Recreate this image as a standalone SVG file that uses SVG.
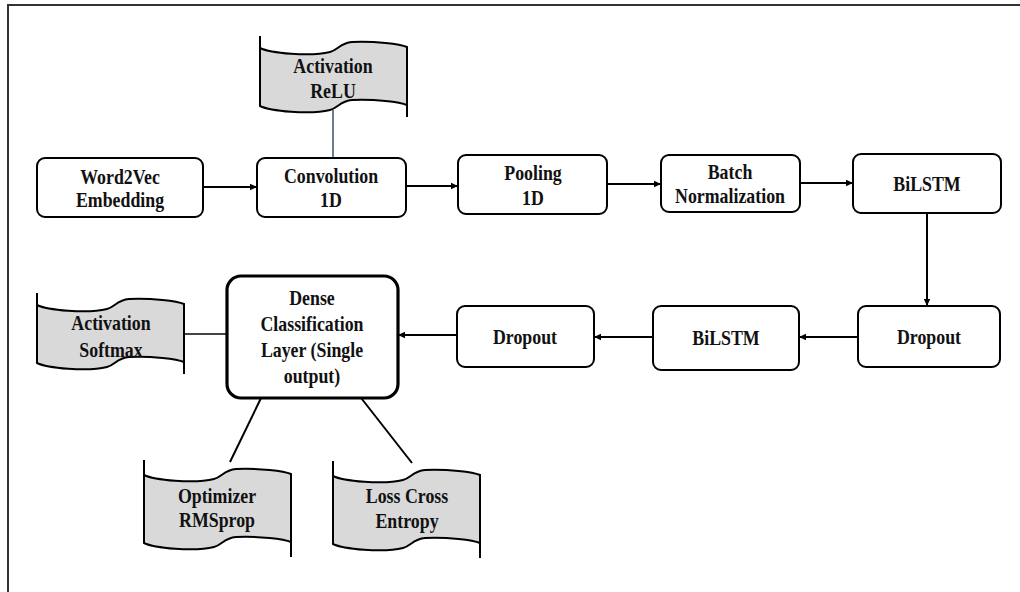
<svg xmlns="http://www.w3.org/2000/svg" width="1020" height="592" viewBox="0 0 1020 592">
<style>
.box{fill:#fff;stroke:#000;stroke-width:2}
.dense{fill:#fff;stroke:#000;stroke-width:3.2}
.flag{fill:#d9d9d9;stroke:#000;stroke-width:2}
.stub{fill:none;stroke:#000;stroke-width:2}
.t{font-family:"Liberation Serif","Times New Roman",serif;font-weight:bold;font-size:21px;text-anchor:middle;fill:#111}
.c{fill:none;stroke:#000;stroke-width:2}
</style>
<defs>
<marker id="ah" markerWidth="8" markerHeight="8" refX="7" refY="4" orient="auto" markerUnits="userSpaceOnUse">
<path d="M0,0.8 L7,4 L0,7.2 Z" fill="#000"/>
</marker>
<g id="flagA">
<path class="flag" d="M0,0 C10,5 50,9 70,4 C78,2 80,-5 92,-6 C115,-7 140,-4 147,-1 L147,57 C140,54 115,51 92,52 C80,53 78,60 70,62 C50,67 10,63 0,58 Z"/>
<path class="stub" d="M0,-12 V58 M147,-1 V69"/>
</g>
<g id="flagB">
<path class="flag" d="M0,0 C10,5 50,9 70,4 C78,2 80,-5 92,-6 C115,-7 140,-4 147,-1 L147,67 C140,64 115,61 92,62 C80,63 78,70 70,72 C50,77 10,73 0,68 Z"/>
<path class="stub" d="M0,-15 V68 M147,-1 V82"/>
</g>
</defs>
<rect width="1020" height="592" fill="#fff"/>
<path d="M8,592 V5 H1020" fill="none" stroke="#333" stroke-width="2"/>

<g id="connectors">
<line x1="333" y1="110" x2="333" y2="158" stroke="#4a5a78" stroke-width="1.6"/>
<line x1="185" y1="334" x2="227" y2="334" stroke="#444" stroke-width="2"/>
<line x1="263" y1="394" x2="230" y2="462" class="c"/>
<line x1="358" y1="394" x2="412" y2="463" class="c"/>
<line x1="203" y1="187" x2="257" y2="187" class="c" marker-end="url(#ah)"/>
<line x1="406" y1="186" x2="458" y2="186" class="c" marker-end="url(#ah)"/>
<line x1="607" y1="184" x2="661" y2="184" class="c" marker-end="url(#ah)"/>
<line x1="800" y1="183" x2="853" y2="183" class="c" marker-end="url(#ah)"/>
<line x1="927" y1="213" x2="927" y2="306" class="c" marker-end="url(#ah)"/>
<line x1="858" y1="337" x2="799" y2="337" class="c" marker-end="url(#ah)"/>
<line x1="653" y1="337" x2="594" y2="337" class="c" marker-end="url(#ah)"/>
<line x1="457" y1="335" x2="398" y2="335" class="c" marker-end="url(#ah)"/>
</g>

<g id="relu">
<use href="#flagA" transform="translate(260,48)"/>
<text class="t" transform="translate(333,73) scale(0.85 1)">Activation</text>
<text class="t" transform="translate(333,98) scale(0.85 1)">ReLU</text>
</g>
<g id="word2vec">
<rect class="box" x="37" y="158" width="166" height="59" rx="8"/>
<text class="t" transform="translate(120,184) scale(0.85 1)">Word2Vec</text>
<text class="t" transform="translate(120,207) scale(0.85 1)">Embedding</text>
</g>
<g id="conv">
<rect class="box" x="257" y="158" width="149" height="59" rx="8"/>
<text class="t" transform="translate(331,183) scale(0.85 1)">Convolution</text>
<text class="t" transform="translate(331,207) scale(0.85 1)">1D</text>
</g>
<g id="pooling">
<rect class="box" x="458" y="155" width="149" height="59" rx="8"/>
<text class="t" transform="translate(533,180) scale(0.85 1)">Pooling</text>
<text class="t" transform="translate(533,205) scale(0.85 1)">1D</text>
</g>
<g id="batchnorm">
<rect class="box" x="661" y="155" width="139" height="57" rx="8"/>
<text class="t" transform="translate(730,179) scale(0.85 1)">Batch</text>
<text class="t" transform="translate(730,203) scale(0.85 1)">Normalization</text>
</g>
<g id="bilstm1">
<rect class="box" x="853" y="154" width="148" height="59" rx="8"/>
<text class="t" transform="translate(927,191) scale(0.85 1)">BiLSTM</text>
</g>
<g id="dropout1">
<rect class="box" x="858" y="306" width="142" height="61" rx="8"/>
<text class="t" transform="translate(929,344) scale(0.85 1)">Dropout</text>
</g>
<g id="bilstm2">
<rect class="box" x="653" y="306" width="146" height="64" rx="8"/>
<text class="t" transform="translate(726,345) scale(0.85 1)">BiLSTM</text>
</g>
<g id="dropout2">
<rect class="box" x="457" y="306" width="137" height="61" rx="8"/>
<text class="t" transform="translate(525,344) scale(0.85 1)">Dropout</text>
</g>
<g id="dense">
<rect class="dense" x="227" y="276" width="171" height="122" rx="14"/>
<text class="t" transform="translate(312,305) scale(0.85 1)">Dense</text>
<text class="t" transform="translate(312,331) scale(0.85 1)">Classification</text>
<text class="t" transform="translate(312,357) scale(0.85 1)">Layer (Single</text>
<text class="t" transform="translate(312,383) scale(0.85 1)">output)</text>
</g>
<g id="softmax">
<use href="#flagA" transform="translate(37,305)"/>
<text class="t" transform="translate(111,330) scale(0.85 1)">Activation</text>
<text class="t" transform="translate(111,357) scale(0.85 1)">Softmax</text>
</g>
<g id="optimizer">
<use href="#flagB" transform="translate(144,475)"/>
<text class="t" transform="translate(217,503) scale(0.85 1)">Optimizer</text>
<text class="t" transform="translate(217,527) scale(0.85 1)">RMSprop</text>
</g>
<g id="loss">
<use href="#flagB" transform="translate(333,476)"/>
<text class="t" transform="translate(407,503) scale(0.85 1)">Loss Cross</text>
<text class="t" transform="translate(407,528) scale(0.85 1)">Entropy</text>
</g>
</svg>
